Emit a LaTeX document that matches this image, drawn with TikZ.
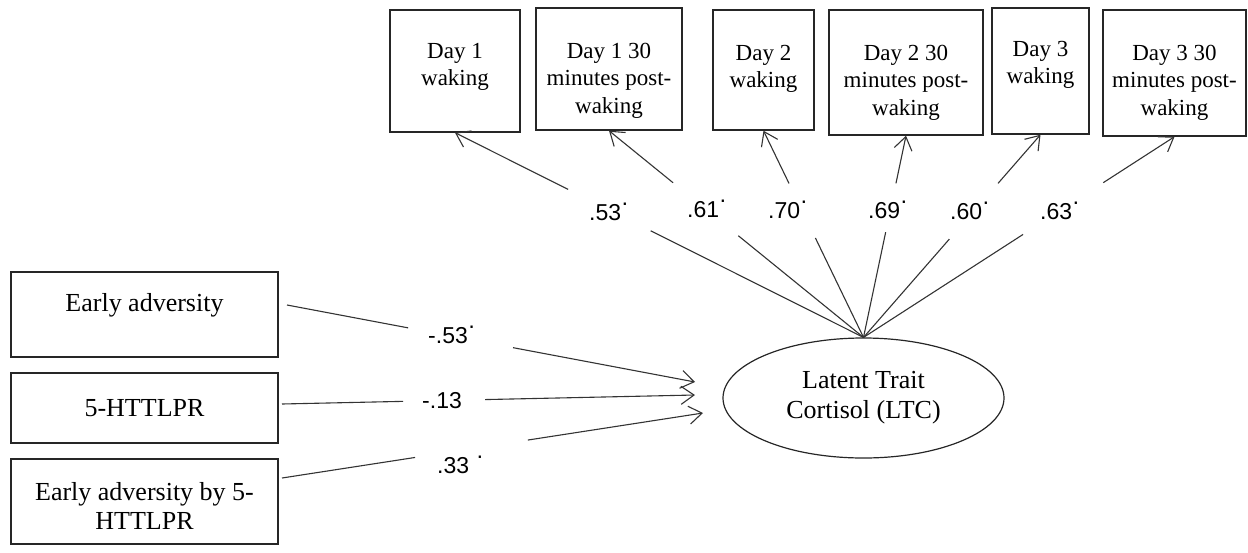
\documentclass[tikz,border=0pt]{standalone}
\usepackage{fontspec}
\setmainfont{Liberation Serif}
\newfontfamily\lblfont{Liberation Sans}
\usetikzlibrary{shapes.geometric,arrows.meta,calc}
\newcommand{\tbox}[4]{\parbox[c][#2pt][t]{#1pt}{\centering\vspace*{#3pt}#4}}
\newcommand{\sdot}{\raisebox{0.42em}{·}}
\begin{document}
\begin{tikzpicture}[x=1pt,y=-1pt,
  box/.style={draw=black!85,line width=1.4pt,inner sep=0pt,rectangle},
  topfont/.style={font=\fontsize{23}{27.5}\selectfont},
  leftfont/.style={font=\fontsize{26}{29}\selectfont},
  lbl/.style={font=\lblfont\fontsize{23}{26}\selectfont,inner sep=0pt,anchor=base west},
  ln/.style={draw=black!80,line width=1.1pt},
  arr/.style={ln,-{Straight Barb[length=13pt,width=18pt,line width=1.1pt]}}]
\useasboundingbox (0,0) rectangle (1248,552);
% top indicator boxes
\node[box,topfont] (b1) at (455,71)    {\tbox{130}{122}{33}{Day 1\\waking}};
\node[box,topfont] (b2) at (609,69)    {\tbox{146}{122}{35}{Day 1 30\\minutes post-\\waking}};
\node[box,topfont] (b3) at (763.5,70)  {\tbox{101}{120}{35}{Day 2\\waking}};
\node[box,topfont] (b4) at (906,72.5)  {\tbox{154}{125}{35}{Day 2 30\\minutes post-\\waking}};
\node[box,topfont] (b5) at (1040.5,71) {\tbox{97}{126}{33}{Day 3\\waking}};
\node[box,topfont] (b6) at (1174.5,73) {\tbox{143}{126}{35}{Day 3 30\\minutes post-\\waking}};
% latent variable
\node[draw=black!85,line width=1.2pt,ellipse,minimum width=281pt,minimum height=120pt,inner sep=0pt,
      align=center,font=\fontsize{26}{30}\selectfont] (ltc) at (863.5,398) {Latent Trait\\Cortisol (LTC)};
% left predictor boxes
\node[box,leftfont] (bA) at (144.5,314.5) {\tbox{267}{85}{21}{Early adversity}};
\node[box,leftfont] (bB) at (144.5,408)   {\parbox[c][70pt][c]{267pt}{\centering 5-HTTLPR}};
\node[box,leftfont] (bC) at (144.5,501.5) {\tbox{267}{85}{23}{Early adversity by 5-\\HTTLPR}};
% loadings
\draw[ln]  (ltc.north) -- ($(ltc.north)!0.521!(b1.south)$);
\draw[arr] ($(ltc.north)!0.723!(b1.south)$) -- (b1.south);
\draw[ln]  (ltc.north) -- ($(ltc.north)!0.492!(b2.south)$);
\draw[arr] ($(ltc.north)!0.748!(b2.south)$) -- (b2.south);
\draw[ln]  (ltc.north) -- ($(ltc.north)!0.481!(b3.south)$);
\draw[arr] ($(ltc.north)!0.745!(b3.south)$) -- (b3.south);
\draw[ln]  (ltc.north) -- ($(ltc.north)!0.522!(b4.south)$);
\draw[arr] ($(ltc.north)!0.764!(b4.south)$) -- (b4.south);
\draw[ln]  (ltc.north) -- ($(ltc.north)!0.485!(b5.south)$);
\draw[arr] ($(ltc.north)!0.760!(b5.south)$) -- (b5.south);
\draw[ln]  (ltc.north) -- ($(ltc.north)!0.513!(b6.south)$);
\draw[arr] ($(ltc.north)!0.771!(b6.south)$) -- (b6.south);
\node[lbl] (l1) at (589,220) {.53\sdot};
\node[lbl] (l2) at (687,217) {.61\sdot};
\node[lbl] (l3) at (768,218) {.70\sdot};
\node[lbl] (l4) at (868,218) {.69\sdot};
\node[lbl] (l5) at (950,219) {.60\sdot};
\node[lbl] (l6) at (1040,219) {.63\sdot};
% regression paths
\coordinate (sA) at (287,305); \coordinate (tA) at (695,382);
\coordinate (sB) at (282,404); \coordinate (tB) at (695,395);
\coordinate (sC) at (282,478); \coordinate (tC) at (703,413);
\draw[ln]  (sA) -- ($(sA)!0.297!(tA)$);
\draw[arr] ($(sA)!0.554!(tA)$) -- (tA);
\draw[ln]  (sB) -- ($(sB)!0.293!(tB)$);
\draw[arr] ($(sB)!0.492!(tB)$) -- (tB);
\draw[ln]  (sC) -- ($(sC)!0.316!(tC)$);
\draw[arr] ($(sC)!0.584!(tC)$) -- (tC);
\node[lbl] (lA) at (428,343) {-.53\sdot};
\node[lbl] (lB) at (422,408) {-.13};
\node[lbl] (lC) at (437,473) {.33\hspace{7pt}\sdot};
\end{tikzpicture}
\end{document}
